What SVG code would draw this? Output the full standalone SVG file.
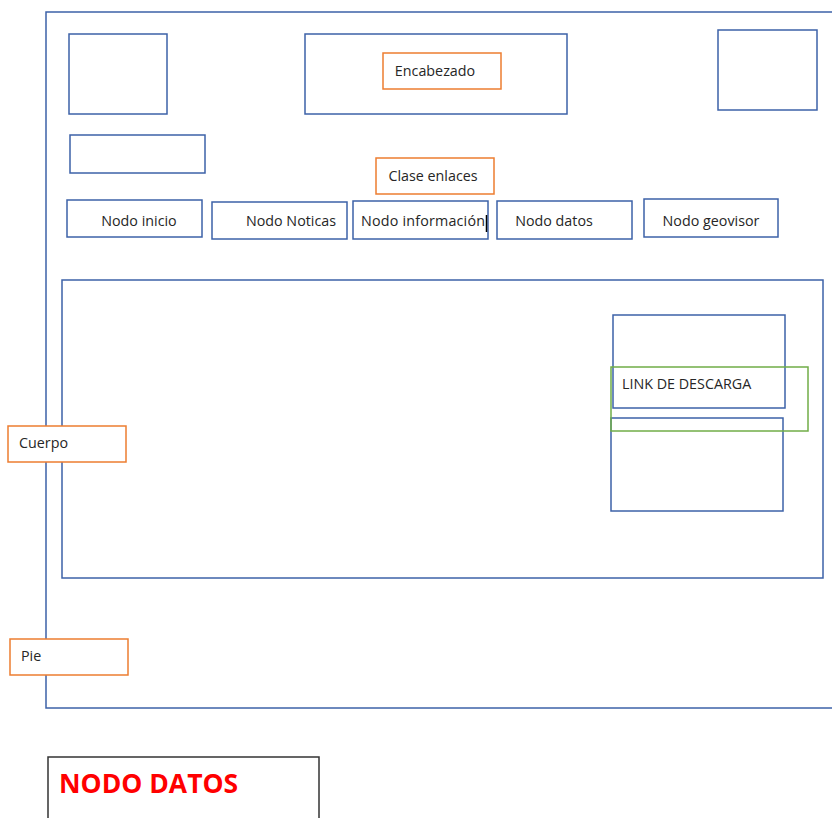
<svg xmlns="http://www.w3.org/2000/svg" width="832" height="818" viewBox="0 0 832 818">
<style>
.b{fill:#fff;stroke:#3d62a8;stroke-width:1.5}
.bn{fill:none;stroke:#3d62a8;stroke-width:1.5}
.o{fill:#fff;stroke:#ed7d31;stroke-width:1.5}
.g{fill:none;stroke:#70ad47;stroke-width:1.5}
.t{font-family:"Open Sans","Liberation Sans",sans-serif;font-size:14.3px;fill:#262626}
</style>
<rect width="832" height="818" fill="#fff"/>
<g id="page"><rect class="bn" x="46" y="12" width="800" height="696"/></g>
<g id="logo-left"><rect class="b" x="69" y="34" width="98" height="80"/></g>
<g id="header"><rect class="b" x="305" y="34" width="262" height="80"/></g>
<g id="encabezado"><rect class="o" x="383" y="53" width="118" height="36"/><text class="t" x="435" y="76" text-anchor="middle">Encabezado</text></g>
<g id="logo-right"><rect class="b" x="718" y="30" width="99" height="80"/></g>
<g id="small-box"><rect class="b" x="70" y="135" width="135" height="38"/></g>
<g id="clase-enlaces"><rect class="o" x="376" y="158" width="118" height="36"/><text class="t" x="433" y="181" text-anchor="middle">Clase enlaces</text></g>
<g id="nodo-inicio"><rect class="b" x="67" y="200" width="135" height="37"/><text class="t" x="139" y="226" text-anchor="middle">Nodo inicio</text></g>
<g id="nodo-noticas"><rect class="b" x="212" y="202" width="135" height="37"/><text class="t" x="291" y="226" text-anchor="middle">Nodo Noticas</text></g>
<g id="nodo-informacion"><rect class="b" x="353" y="201" width="135" height="38"/><text class="t" x="361" y="226" textLength="124">Nodo información</text><line x1="486.5" y1="215" x2="486.5" y2="232" stroke="#000" stroke-width="1.5"/></g>
<g id="nodo-datos"><rect class="b" x="497" y="201" width="135" height="38"/><text class="t" x="554" y="226" text-anchor="middle">Nodo datos</text></g>
<g id="nodo-geovisor"><rect class="b" x="644" y="199" width="134" height="38"/><text class="t" x="711" y="226" text-anchor="middle">Nodo geovisor</text></g>
<g id="body"><rect class="b" x="62" y="280" width="761" height="298"/></g>
<g id="inner-top"><rect class="bn" x="613" y="315" width="172" height="93"/></g>
<g id="inner-bottom"><rect class="bn" x="611" y="418" width="172" height="93"/></g>
<g id="link-descarga"><rect class="g" x="611" y="367" width="197" height="64"/><text class="t" x="622" y="389">LINK DE DESCARGA</text></g>
<g id="cuerpo"><rect class="o" x="8" y="426" width="118" height="36"/><text class="t" x="19" y="448">Cuerpo</text></g>
<g id="pie"><rect class="o" x="10" y="639" width="118" height="36"/><text class="t" x="21" y="661">Pie</text></g>
<g id="nodo-datos-title"><rect x="48" y="757" width="271" height="80" fill="#fff" stroke="#333" stroke-width="1.5"/><text x="59" y="793" font-family="'Open Sans','Liberation Sans',sans-serif" font-size="26.5" font-weight="bold" fill="#ff0000">NODO DATOS</text></g>
<g id="connectors"></g>
</svg>
